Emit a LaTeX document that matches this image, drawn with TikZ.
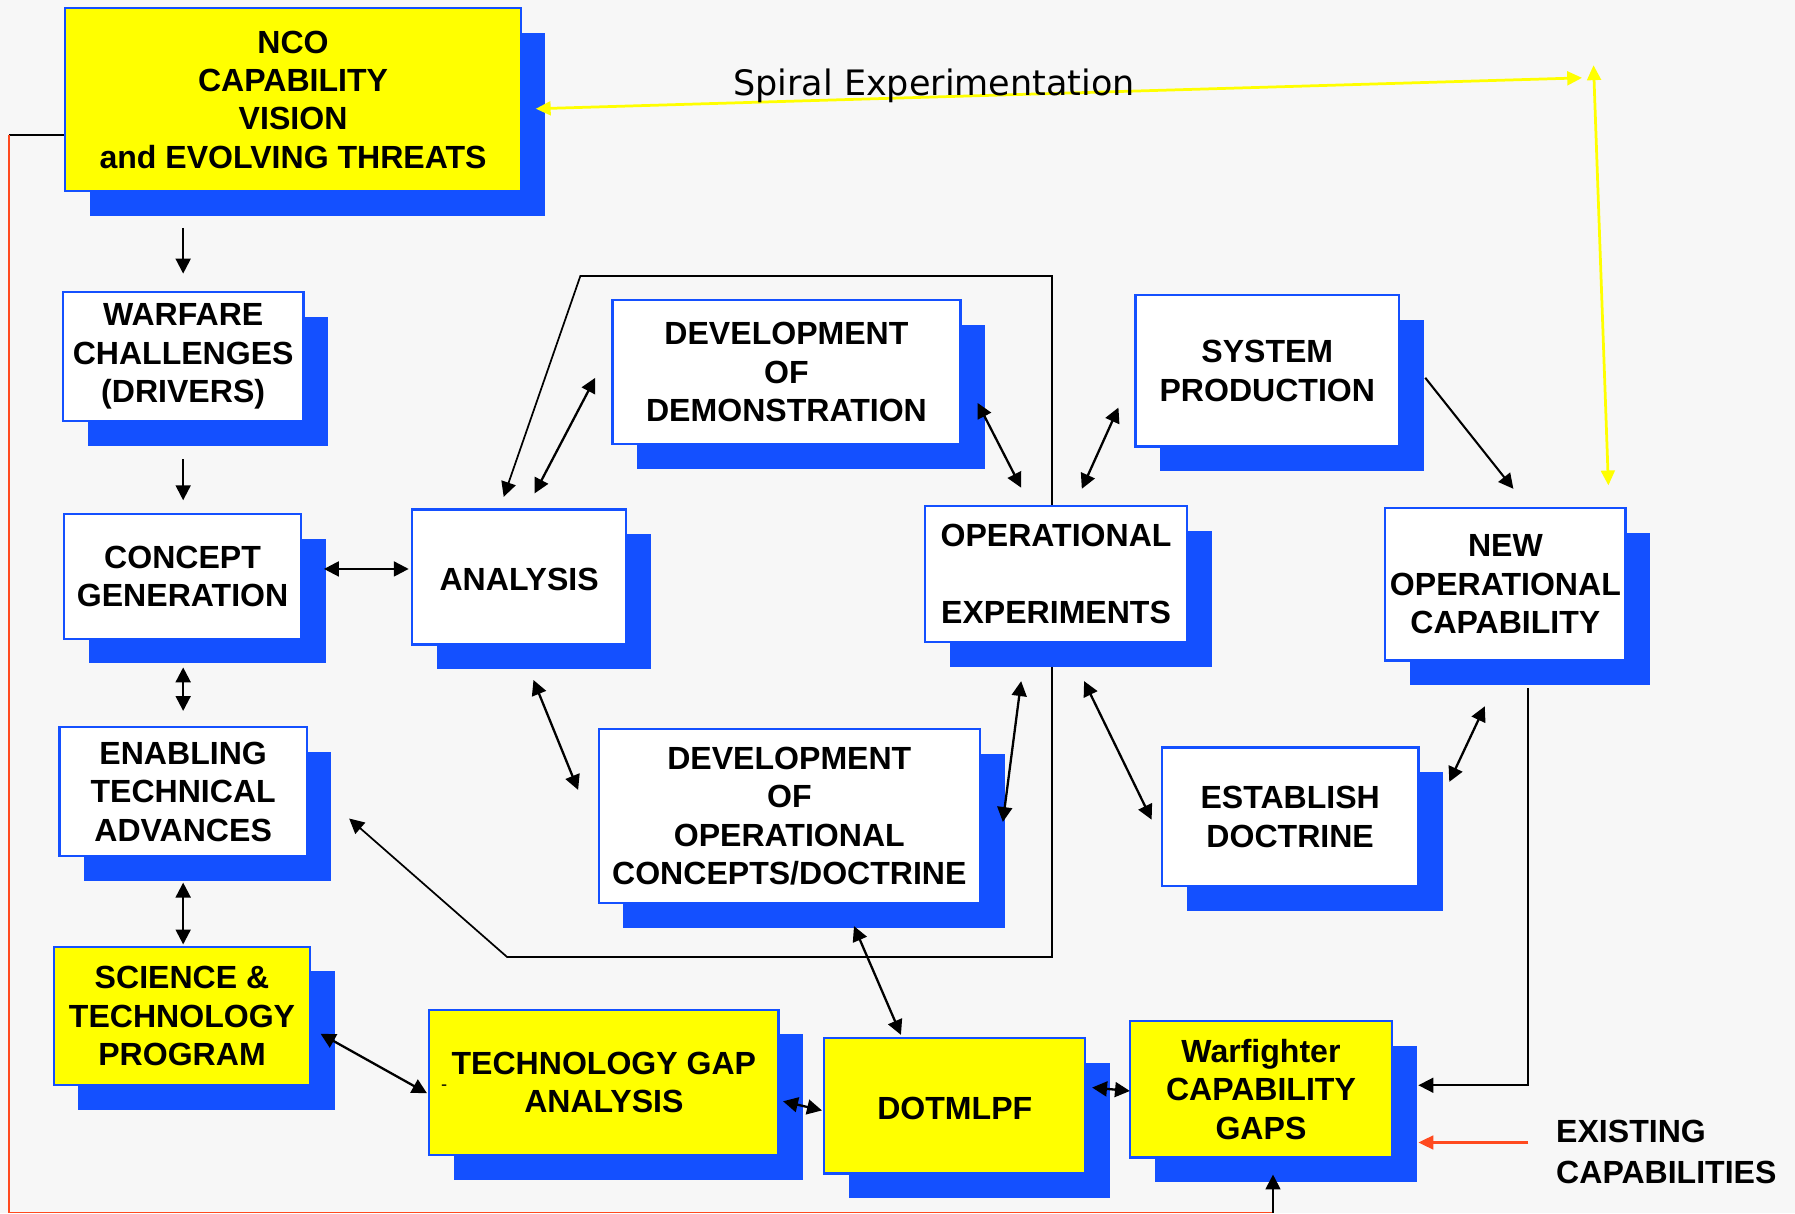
\documentclass[tikz,border=0pt]{standalone}
\usepackage{fontspec}
\setmainfont{Liberation Sans}
\newfontfamily\spiralfont{DejaVu Sans}
\usetikzlibrary{arrows.meta,shadows,calc}
\definecolor{bgc}{HTML}{F7F7F7}
\definecolor{bblue}{HTML}{1450FF}
\definecolor{byel}{HTML}{FFFF00}
\definecolor{orng}{HTML}{FF4A1F}
\pgfdeclarelayer{bglayer}
\pgfdeclarelayer{backlayer}
\pgfsetlayers{bglayer,backlayer,main}
\begin{document}
\begin{tikzpicture}[x=0.5pt,y=-0.5pt,
  >={Triangle[length=6.5pt,width=6.5pt]},
  box/.style={draw=bblue, line width=1pt, fill=white, inner sep=0pt, align=center,
    execute at begin node={\rule{0pt}{12pt}},
    font=\bfseries\fontsize{14}{16.75}\selectfont,
    general shadow={fill=bblue, shadow xshift=10.75pt, shadow yshift=-10.75pt}},
  ybox/.style={box, fill=byel},
  darr/.style={line width=1pt, <->},
  sarr/.style={line width=0.9pt, ->},
  thinpath/.style={line width=0.75pt},
  yarr/.style={draw=byel, line width=1.2pt, {Triangle[length=6.5pt,width=6pt]}-{Triangle[length=6.5pt,width=6pt]}},
  oarr/.style={draw=orng, line width=1pt, -{Triangle[length=6.5pt,width=6pt]}},
  feedline/.style={draw=orng, line width=0.7pt}
]
\begin{pgfonlayer}{bglayer}
\fill[bgc] (0,0) rectangle (1568,1060);
\end{pgfonlayer}
\useasboundingbox (0,0) rectangle (1568,1060);

% boxes
\node[ybox, minimum width=199pt, minimum height=80pt] (nco) at (256,87) {NCO\\CAPABILITY\\VISION\\and EVOLVING THREATS};
\node[box, minimum width=105pt, minimum height=56.5pt] (war) at (160,311.5) {WARFARE\\CHALLENGES\\(DRIVERS)};
\node[box, minimum width=103.5pt, minimum height=54.5pt] (con) at (159.5,503.5) {CONCEPT\\GENERATION};
\node[box, minimum width=108pt, minimum height=56.5pt] (ena) at (160,691.5) {ENABLING\\TECHNICAL\\ADVANCES};
\node[ybox, minimum width=112pt, minimum height=60.5pt] (sci) at (159,887.5) {SCIENCE \&\\TECHNOLOGY\\PROGRAM};
\node[box, minimum width=93.5pt, minimum height=59pt] (ana) at (453.5,504) {ANALYSIS};
\node[box, minimum width=152pt, minimum height=63pt] (demo) at (687,325) {DEVELOPMENT\\OF\\DEMONSTRATION};
\node[box, minimum width=166.5pt, minimum height=76pt] (doc) at (689.5,713) {DEVELOPMENT\\OF\\OPERATIONAL\\CONCEPTS/DOCTRINE};
\node[box, minimum width=114.5pt, minimum height=59.5pt] (opx) at (922.5,501.5) {OPERATIONAL\\[16.75pt]EXPERIMENTS};
\node[box, minimum width=115pt, minimum height=66pt] (sys) at (1107,324) {SYSTEM\\PRODUCTION};
\node[box, minimum width=105pt, minimum height=66.5pt] (newc) at (1315,510.5) {NEW\\OPERATIONAL\\CAPABILITY};
\node[box, minimum width=112pt, minimum height=60.5pt] (est) at (1127,713.5) {ESTABLISH\\DOCTRINE};
\node[ybox, minimum width=152.5pt, minimum height=63.5pt] (gap) at (527.5,945.5) {TECHNOLOGY GAP\\ANALYSIS};
\node[ybox, minimum width=114pt, minimum height=59pt] (dot) at (834,966) {DOTMLPF};
\node[ybox, minimum width=114.5pt, minimum height=59.5pt] (wf) at (1101.5,951.5) {Warfighter\\CAPABILITY\\GAPS};
\node[font=\fontsize{8}{9}\selectfont, inner sep=0pt] (dash) at (388,950) {-};

\node[anchor=north west, inner sep=0pt, align=left, font=\bfseries\fontsize{14}{18}\selectfont] (exist) at (1359,978) {EXISTING\\CAPABILITIES};

% long loop path (behind boxes)
\coordinate (lp1) at (507,241);
\coordinate (lp2) at (919,241);
\coordinate (lp3) at (919,836);
\coordinate (lp4) at (443,836);
\begin{pgfonlayer}{backlayer}
\draw[thinpath, <->] ($(ana.north)+(-13.5,-10)$) -- (lp1) -- (lp2) -- (lp3) -- (lp4) -- ($(ena.east)+(36,23.5)$);
\end{pgfonlayer}

% spiral experimentation
\coordinate (spend) at (1382,68);
\coordinate (sptop) at (1392,57);
\draw[yarr] ($(nco.east)+(12,8)$) -- (spend);
\draw[yarr] (sptop) -- ($(newc.north)+(90,-19)$);
\node[anchor=base west, inner sep=0pt, font=\spiralfont\fontsize{15.3}{18}\selectfont] (spiral) at (640,83) {Spiral Experimentation};

% left column
\draw[sarr] ($(war.north)+(0,-55)$) -- ($(war.north)+(0,-15)$);
\draw[sarr] ($(war.south)+(0,32)$) -- ($(con.north)+(0.5,-11)$);
\draw[darr] ($(con.south)+(0.5,24)$) -- ($(ena.north)+(0,-13)$);
\draw[darr] ($(ena.south)+(0,22)$) -- ($(sci.north)+(1,-1)$);

% middle
\draw[darr] ($(con.east)+(19,-6.5)$) -- ($(ana.west)+(-2,-7)$);
\draw[darr] ($(ana.north)+(13.5,-13)$) -- ($(demo.west)+(-14,5)$);
\draw[darr] ($(ana.south)+(12.5,30)$) -- ($(doc.west)+(-17,-23)$);
\draw[darr] ($(demo.east)+(14,27)$) -- ($(opx.north)+(-30.5,-15)$);
\draw[darr] ($(doc.east)+(19,5)$) -- ($(opx.south)+(-30.5,33)$);
\draw[darr] ($(opx.north)+(22.5,-14)$) -- ($(sys.west)+(-14,32)$);
\draw[darr] ($(opx.south)+(24.5,33)$) -- ($(est.west)+(-8,2.5)$);
\draw[sarr] ($(sys.east)+(22,6)$) -- ($(newc.north)+(7,-16)$);
\draw[darr] ($(est.east)+(26,-30.5)$) -- ($(newc.south)+(-18,39)$);
\draw[thinpath, ->] ($(newc.south)+(20,23)$) |- ($(wf.east)+(22,-3.5)$);
\draw[oarr] ($(exist.north west)+(-24,20)$) -- ($(wf.east)+(22,46.5)$);

% bottom row
\draw[darr] ($(doc.south)+(56.5,19)$) -- ($(dot.north)+(-47,-2)$);
\draw[darr] ($(gap.east)+(3,16.5)$) -- ($(dot.west)+(-1,4)$);
\draw[darr] ($(dot.east)+(5,-16)$) -- ($(wf.west)+(1,1.5)$);
\draw[darr] ($(sci.east)+(8,15.5)$) -- ($(gap.west)+(-1,9.5)$);

% feedback loop
\coordinate (fbA) at (8,118);
\coordinate (fbB) at (8,1059.3);
\coordinate (fbC) at (1112,1059.3);
\draw[thinpath] ($(nco.west)+(0,31)$) -- (fbA);
\draw[feedline] (fbA) -- (fbB) -- (fbC);
\draw[sarr] (fbC) -- ($(wf.south)+(10.5,14)$);
\end{tikzpicture}
\end{document}
